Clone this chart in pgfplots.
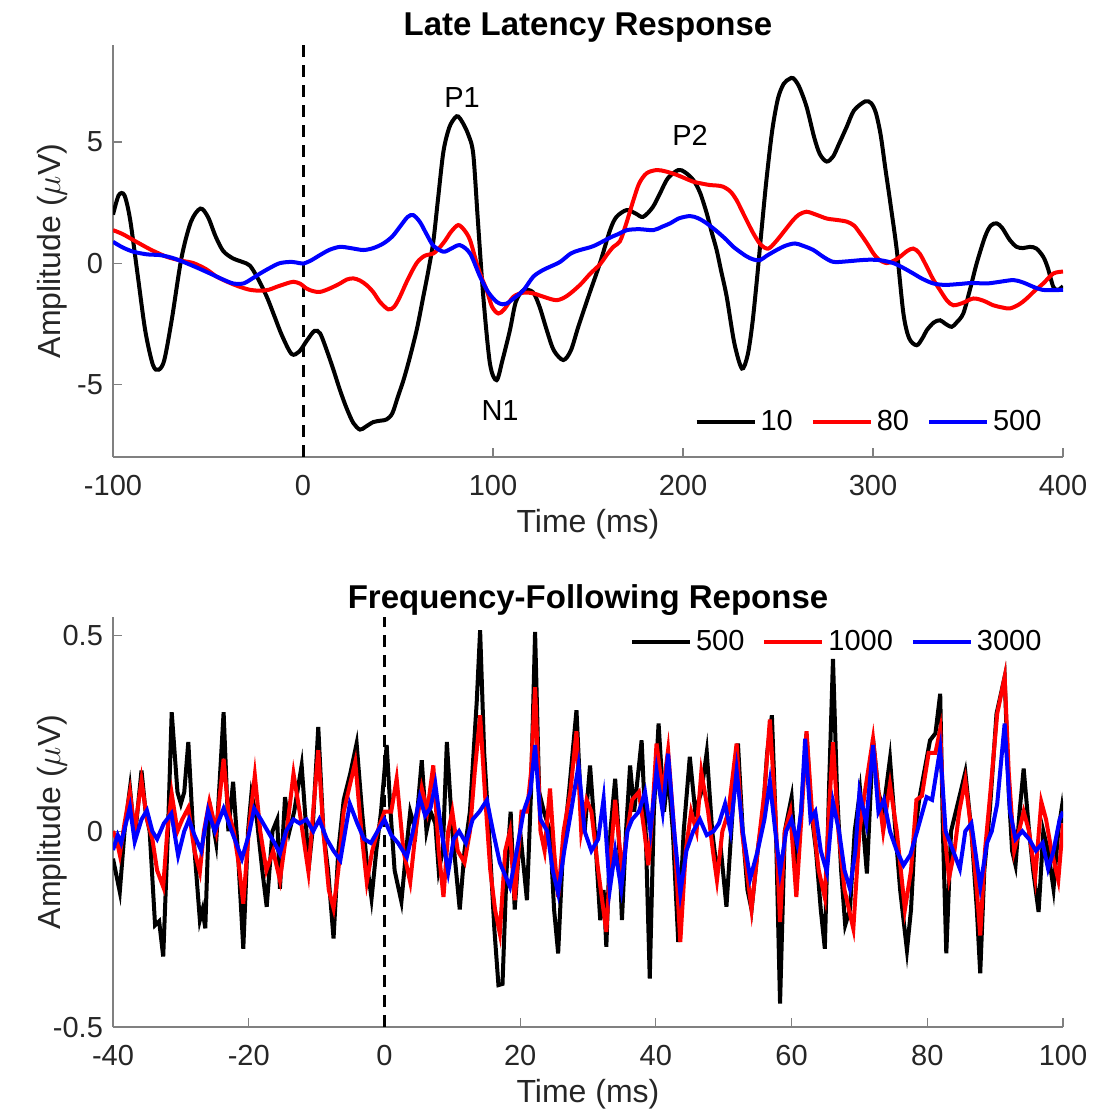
\documentclass[border=0pt]{standalone}
\usepackage{fontspec}
\setmainfont{Liberation Sans}
\usepackage{pgfplots}
\pgfplotsset{compat=1.18}
\definecolor{axgray}{gray}{0.5}
\definecolor{txtgray}{gray}{0.15}
\pgfplotsset{
  erp/.style={
    scale only axis, width=475pt,
    axis lines=left, axis line style={-, draw=axgray, line width=0.6pt},
    tick align=inside, major tick length=4.5pt,
    every tick/.style={draw=axgray, line width=0.6pt},
    tick label style={font=\fontsize{14.5}{17}\selectfont, text=txtgray},
    xticklabel style={yshift=-5.5pt},
    yticklabel style={xshift=-1.5pt},
    label style={font=\fontsize{16}{19}\selectfont, text=txtgray},
    xlabel style={at={([yshift=-33.5pt]axis description cs:0.5,0)}, anchor=center},
    ylabel style={at={([xshift=-30.5pt]axis description cs:0,0.5)}, anchor=center},
    every axis title shift=0pt,
    title style={font=\fontsize{16.5}{19}\selectfont\bfseries, at={([yshift=8.5pt]axis description cs:0.5,1)}, anchor=center},
    legend style={draw=none, fill=none, font=\fontsize{14.5}{17}\selectfont, inner sep=0pt,
      /tikz/every even column/.append style={column sep=7pt}},
    legend columns=3,
    legend image code/.code={\draw[#1, line width=2pt] (0pt,0pt) -- (29pt,0pt);},
  }
}
\begin{document}
\begin{tikzpicture}
\path[use as bounding box] (0pt,0pt) rectangle (547pt,-555.5pt);
% ---------- top: late latency response
\begin{axis}[erp, at={(56.5pt,-22.5pt)}, anchor=north west, height=206pt,
  xmin=-100, xmax=400, ymin=-8, ymax=9,
  xtick={-100,0,100,200,300,400}, xticklabels={-100,0,100,200,300,400},
  ytick={-5,0,5}, yticklabels={-5,0,5},
  title={Late Latency Response}, xlabel={Time (ms)}, ylabel={Amplitude ($\mu$V)},
  legend style={at={(0.982,0.085)}, anchor=east}]
\addplot[black, line width=1.5pt, dash pattern=on 6pt off 4pt, forget plot] coordinates {(0,-8) (0,9)};
\addplot[black, line width=2pt, smooth, tension=0.5] coordinates {
(-100,2.0) (-97,2.8) (-94,2.8) (-91,1.8) (-87,-0.5) (-83,-2.8) (-79,-4.2) (-76,-4.4) (-73,-4.0) (-69,-2.3) (-64,0.2) (-59,1.7) (-54,2.25) (-50,1.9) (-46,1.1) (-42,0.5) (-37,0.2) (-32,0.05) (-28,-0.1) (-24,-0.6) (-19,-1.4) (-15,-2.2) (-11,-3.0) (-6,-3.75) (-2,-3.65) (2,-3.2) (6,-2.8) (9,-2.9) (12.5,-3.6) (16,-4.4) (19.5,-5.25) (23,-6.0) (26.5,-6.6) (30,-6.87) (33,-6.75) (37,-6.56) (41,-6.5) (44,-6.45) (47,-6.2) (50,-5.5) (53,-4.8) (56.3,-3.87) (60,-2.7) (63.3,-1.39) (66,-0.3) (68.6,0.9) (71,2.6) (73.9,4.6) (77,5.6) (80,6.0) (81.7,6.05) (84,5.8) (87,5.3) (89.6,4.5) (92,1.8) (94.9,-1.39) (98.4,-4.15) (101.9,-4.83) (105,-4.0) (108.9,-2.77) (112,-1.6) (116,-1.12) (121,-1.2) (124.5,-1.8) (128.3,-2.77) (132,-3.6) (137,-4.0) (141,-3.6) (145,-2.6) (151,-1.2) (156.3,0.0) (161.6,1.36) (165,1.91) (170.4,2.19) (175,2.05) (179,1.91) (184,2.3) (187.9,2.88) (192,3.5) (197.5,3.84) (201,3.75) (205.4,3.43) (209,2.9) (212.5,2.05) (215,1.3) (217.7,0.54) (220,-0.3) (223,-1.39) (227,-3.3) (231,-4.35) (234,-3.8) (236.5,-2.5) (239,-0.6) (241.5,1.5) (244,3.5) (247,5.5) (250,6.8) (253,7.4) (256,7.6) (258,7.63) (261,7.3) (265,6.46) (269,5.2) (272,4.5) (275.6,4.19) (279,4.4) (282,4.9) (286.2,5.63) (290,6.3) (295.8,6.67) (299,6.6) (301.5,6.2) (304,5.3) (306.5,3.9) (308.9,2.6) (312.5,0.54) (316,-2.08) (319,-3.1) (323,-3.39) (326,-3.1) (328.3,-2.77) (332,-2.45) (335.3,-2.36) (338,-2.5) (341.4,-2.63) (344,-2.45) (347.5,-2.08) (351,-1.1) (354.6,0.0) (359,1.1) (362,1.55) (365.1,1.64) (368,1.45) (372,0.95) (375.6,0.67) (379,0.62) (382.6,0.67) (386,0.6) (389.6,0.26) (392,-0.2) (394.9,-0.98) (397.5,-1.1) (400,-0.95)};
\addplot[red, line width=2pt, smooth, tension=0.5] coordinates {
(-100,1.36) (-95,1.2) (-89.3,0.95) (-80,0.55) (-71.7,0.26) (-64,0.1) (-57.7,0.0) (-51,-0.25) (-45.4,-0.56) (-39,-0.8) (-33.2,-0.98) (-28,-1.1) (-22.6,-1.14) (-18,-1.1) (-13.9,-0.98) (-9,-0.85) (-5.1,-0.77) (-1.5,-0.85) (1.9,-1.05) (5,-1.15) (8.9,-1.19) (14,-1.05) (19.5,-0.84) (23,-0.68) (26.5,-0.63) (30,-0.72) (33.5,-0.91) (37,-1.2) (40.5,-1.6) (44.9,-1.91) (48,-1.8) (51,-1.39) (55,-0.7) (59.8,0.0) (64,0.3) (68.6,0.4) (72,0.65) (75,0.95) (78,1.3) (81.7,1.57) (85,1.35) (87.9,0.95) (91.4,0.0) (94,-0.6) (96.7,-1.12) (99.5,-1.8) (102.8,-2.08) (106,-1.9) (110.7,-1.39) (116,-1.22) (121.2,-1.25) (127,-1.4) (133.5,-1.53) (139,-1.35) (145.8,-0.9) (151,-0.45) (156.3,-0.05) (160,0.35) (163.3,0.67) (166.8,0.9) (170,1.6) (173.9,2.6) (177,3.3) (180.9,3.71) (186.2,3.84) (191,3.78) (196.7,3.64) (201,3.5) (205.4,3.36) (210,3.28) (214.2,3.22) (218,3.2) (221.2,3.15) (225,2.95) (228.2,2.6) (232,2.0) (237,1.23) (241,0.75) (244.9,0.6) (249,0.9) (254.6,1.45) (258,1.78) (261,2.0) (265,2.12) (270,2.0) (275.6,1.84) (281,1.78) (286.2,1.71) (290,1.55) (293.2,1.23) (297,0.8) (300.2,0.4) (303,0.15) (307.2,0.0) (311,0.1) (314.2,0.26) (318,0.5) (321.2,0.6) (324.5,0.4) (328.3,-0.15) (331.5,-0.65) (335.3,-1.12) (339,-1.55) (342.3,-1.74) (347,-1.65) (352.8,-1.46) (358,-1.55) (363.3,-1.74) (368,-1.83) (372.1,-1.87) (377,-1.7) (380.9,-1.46) (385,-1.15) (389.6,-0.84) (394.9,-0.43) (400,-0.35)};
\addplot[blue, line width=2pt, smooth, tension=0.5] coordinates {
(-100,0.88) (-95,0.65) (-89.3,0.47) (-82,0.36) (-75.3,0.33) (-69,0.22) (-63,0.05) (-56,-0.18) (-48.9,-0.43) (-42,-0.68) (-36.7,-0.84) (-31.4,-0.84) (-27,-0.65) (-22.6,-0.43) (-17,-0.18) (-12.1,0.0) (-6,0.05) (-2,0.0) (0.2,-0.02) (4,0.1) (8.9,0.33) (14,0.55) (19.5,0.67) (25,0.62) (31.7,0.54) (37,0.62) (42.3,0.81) (47,1.1) (51,1.5) (55,1.9) (58,1.98) (61.5,1.7) (65,1.2) (68.6,0.72) (73.9,0.47) (78,0.6) (82.6,0.74) (87.9,0.4) (93.2,-0.56) (97.5,-1.2) (101.9,-1.6) (105,-1.7) (107.2,-1.67) (111,-1.45) (116,-1.12) (121.2,-0.56) (126,-0.3) (130,-0.15) (135.3,0.05) (141,0.4) (145.8,0.54) (152.8,0.7) (161.6,1.05) (166,1.2) (170.4,1.36) (177,1.4) (184.4,1.36) (189,1.5) (193.2,1.64) (198,1.85) (203.7,1.94) (208,1.85) (212.5,1.64) (218,1.3) (223,0.95) (226.5,0.67) (233,0.3) (237,0.15) (240.5,0.12) (244,0.3) (249.3,0.54) (254,0.72) (258.9,0.81) (263,0.72) (268.6,0.54) (274,0.25) (279.1,0.05) (286,0.07) (293.2,0.12) (298,0.14) (303.7,0.12) (310.7,0.0) (316,-0.2) (321.2,-0.43) (326,-0.65) (331.8,-0.84) (338,-0.9) (345.8,-0.86) (352,-0.82) (359.8,-0.84) (366,-0.78) (373.9,-0.7) (379,-0.8) (384.4,-0.98) (389,-1.1) (394.9,-1.12) (400,-1.1)};
\legend{10,80,500}
\node[font=\fontsize{14.5}{17}\selectfont] at (axis cs:83.7,6.82) {P1};
\node[font=\fontsize{14.5}{17}\selectfont] at (axis cs:203.7,5.29) {P2};
\node[font=\fontsize{14.5}{17}\selectfont] at (axis cs:103.7,-6.07) {N1};
\end{axis}
% ---------- bottom: frequency-following response
\begin{axis}[erp, at={(56.5pt,-308.5pt)}, anchor=north west, height=205pt,
  xmin=-40, xmax=100, ymin=-0.5, ymax=0.547,
  xtick={-40,-20,0,20,40,60,80,100}, xticklabels={-40,-20,0,20,40,60,80,100},
  ytick={-0.5,0,0.5}, yticklabels={-0.5,0,0.5},
  title={Frequency-Following Reponse}, xlabel={Time (ms)}, ylabel={Amplitude ($\mu$V)},
  legend style={at={(0.982,0.939)}, anchor=east}]
\addplot[black, line width=1.5pt, dash pattern=on 6pt off 4pt, forget plot] coordinates {(0,-0.5) (0,0.547)};
\addplot[black, line width=2pt] coordinates {
(-40,-0.07) (-39.0,-0.155) (-38.3,0.0) (-37.5,0.11) (-36.8,-0.02) (-35.8,0.155) (-35.2,0.05) (-34.6,0.0) (-33.8,-0.24) (-33.2,-0.23) (-32.6,-0.32) (-31.9,0.0) (-31.35,0.304) (-30.5,0.1) (-30.0,0.07) (-29.5,0.1) (-28.9,0.228) (-28.2,0.0) (-27.2,-0.227) (-26.8,-0.20) (-26.4,-0.248) (-25.8,0.075) (-24.8,-0.03) (-23.7,0.304) (-23.0,0.0) (-22.3,0.126) (-21.6,-0.05) (-20.8,-0.30) (-20.1,0.0) (-19.6,0.096) (-18.8,0.03) (-18.0,-0.1) (-17.35,-0.193) (-16.5,0.0) (-15.8,0.03) (-15.4,-0.147) (-14.65,0.087) (-14.0,0.0) (-13.3,0.05) (-12.2,0.168) (-11.5,0.0) (-11.2,-0.10) (-10.6,0.0) (-9.75,0.266) (-9.0,0.0) (-8.3,-0.1) (-7.5,-0.274) (-6.8,-0.05) (-6.0,0.08) (-5.0,0.15) (-4.1,0.224) (-3.3,0.05) (-2.6,-0.08) (-1.9,-0.172) (-1.2,-0.05) (-0.5,0.05) (0.33,0.22) (0.9,0.05) (1.5,-0.1) (2.5,-0.18) (3.2,-0.05) (3.8,0.05) (4.6,0.0) (5.5,0.181) (6.2,0.0) (6.8,0.05) (7.5,0.02) (8.0,-0.1) (8.6,-0.05) (9.2,0.228) (10.0,0.0) (11.1,-0.20) (11.8,-0.05) (12.6,0.05) (13.6,0.33) (14.1,0.513) (14.7,0.2) (15.4,0.0) (16.2,-0.25) (16.8,-0.393) (17.4,-0.39) (18.0,-0.1) (18.6,0.05) (19.2,-0.20) (20.0,0.0) (21.0,-0.176) (21.6,0.1) (22.2,0.509) (22.8,0.1) (23.5,0.05) (24.4,0.0) (25.0,-0.2) (25.6,-0.312) (26.3,-0.05) (27.2,0.1) (28.3,0.309) (29.0,0.05) (29.6,0.02) (30.3,0.168) (31.0,0.0) (31.8,-0.227) (32.3,-0.15) (32.7,-0.295) (33.3,0.0) (34.0,0.134) (34.5,0.0) (35.0,-0.227) (35.6,0.0) (36.2,0.168) (36.8,0.05) (37.9,0.232) (38.5,0.0) (39.1,-0.376) (39.7,0.05) (40.4,0.275) (41.2,0.05) (41.8,0.15) (42.5,0.0) (43.3,-0.283) (44.1,0.0) (45.0,0.19) (45.8,0.05) (46.7,0.1) (47.5,0.202) (48.3,0.0) (49.0,-0.1) (49.6,-0.05) (50.4,-0.193) (51.3,0.05) (52.1,0.224) (52.8,0.0) (53.5,-0.15) (54.1,-0.2) (55.0,-0.05) (55.8,0.05) (56.4,0.2) (57.1,0.296) (57.7,0.0) (58.3,-0.44) (59.0,0.0) (60.0,0.087) (60.7,-0.1) (61.4,0.05) (62.2,0.249) (62.9,0.05) (63.6,-0.05) (64.3,-0.2) (64.9,-0.30) (65.5,0.1) (66.1,0.44) (66.7,0.1) (67.3,-0.1) (67.9,-0.24) (68.6,-0.2) (69.3,0.0) (70.1,0.104) (71.1,-0.108) (72.0,0.236) (72.8,0.1) (73.5,0.05) (74.5,0.185) (75.3,0.0) (76.0,-0.15) (77.0,-0.304) (77.6,-0.2) (78.2,0.0) (78.8,0.08) (79.4,0.138) (80.4,0.232) (81.2,0.25) (81.9,0.351) (82.3,0.0) (82.8,-0.312) (83.5,0.0) (84.2,0.05) (84.9,0.1) (85.6,0.151) (86.5,0.0) (87.3,-0.2) (87.8,-0.363) (88.4,-0.1) (89.2,0.05) (90.2,0.3) (91.4,0.394) (92.0,0.1) (92.5,-0.05) (93.0,-0.087) (93.6,0.05) (94.2,0.16) (95.0,0.0) (95.6,-0.1) (96.4,-0.206) (97.1,0.0) (97.8,-0.05) (98.6,-0.147) (99.3,0.0) (99.8,0.058) (100,0.02)};
\addplot[red, line width=2pt] coordinates {
(-40,0.0) (-39.5,-0.02) (-39.0,-0.06) (-38.3,0.02) (-37.5,0.10) (-36.8,0.0) (-35.8,0.13) (-35.0,0.03) (-34.2,-0.02) (-33.5,-0.10) (-32.6,-0.142) (-32.0,0.0) (-31.35,0.096) (-30.5,0.0) (-29.8,0.03) (-28.9,0.06) (-28.0,-0.05) (-27.2,-0.104) (-26.6,0.0) (-25.8,0.075) (-24.8,0.0) (-23.7,0.185) (-23.0,0.05) (-22.2,0.0) (-21.5,-0.08) (-20.8,-0.185) (-20.0,0.0) (-19.1,0.143) (-18.3,0.0) (-17.4,-0.1) (-16.4,-0.05) (-15.4,-0.125) (-14.4,0.0) (-13.4,0.147) (-12.5,0.05) (-11.2,-0.104) (-10.5,0.05) (-9.75,0.207) (-9.0,0.0) (-8.2,-0.15) (-7.5,-0.197) (-6.8,-0.1) (-6.0,0.05) (-4.3,0.177) (-3.4,0.0) (-2.6,-0.13) (-1.8,-0.05) (-1.0,0.0) (0.0,0.05) (1.0,0.05) (1.8,0.134) (2.8,-0.05) (3.8,-0.13) (4.6,0.0) (5.5,0.11) (6.3,0.05) (7.2,0.168) (8.0,-0.05) (8.7,-0.168) (9.4,0.0) (10.0,0.05) (10.8,-0.05) (11.8,-0.08) (12.6,0.0) (13.3,0.15) (14.1,0.296) (14.8,0.1) (15.6,-0.1) (16.3,-0.2) (17.0,-0.261) (17.8,-0.05) (18.5,0.0) (19.2,-0.176) (20.2,0.05) (21.0,0.05) (21.6,0.15) (22.2,0.368) (23.0,0.0) (23.6,-0.05) (24.4,0.109) (25.0,-0.05) (25.6,-0.168) (26.4,0.0) (27.4,0.1) (28.3,0.255) (29.0,0.0) (29.8,0.08) (30.5,0.05) (31.5,-0.1) (32.7,-0.257) (33.4,-0.05) (34.0,0.08) (35.0,-0.1) (35.8,0.0) (36.5,0.08) (37.5,0.1) (38.3,0.0) (38.9,-0.087) (39.5,0.05) (40.1,0.224) (41.0,0.1) (41.8,0.207) (42.7,0.0) (43.6,-0.283) (44.4,-0.05) (45.2,0.05) (46.0,0.0) (46.7,0.151) (47.7,0.05) (48.4,-0.05) (49.0,-0.125) (49.8,0.0) (50.7,0.05) (51.9,0.224) (52.7,0.0) (53.4,-0.1) (54.1,-0.2) (55.0,-0.05) (56.0,0.1) (56.8,0.285) (57.6,0.05) (58.3,-0.232) (59.0,0.0) (59.8,0.05) (60.7,-0.168) (61.5,0.05) (62.2,0.255) (63.0,0.05) (64.0,-0.1) (64.9,-0.17) (65.5,0.05) (66.1,0.227) (66.9,0.0) (67.8,-0.15) (69.1,-0.249) (70.0,0.0) (70.8,0.1) (72.0,0.236) (72.8,0.1) (73.5,0.0) (74.5,0.12) (75.5,0.0) (76.7,-0.2) (77.6,-0.1) (78.4,0.08) (79.2,0.09) (80.2,0.2) (81.2,0.2) (81.9,0.26) (82.5,0.0) (83.2,-0.12) (84.0,-0.05) (84.7,0.05) (85.6,0.13) (86.5,0.0) (87.3,-0.15) (87.8,-0.266) (88.5,-0.05) (89.3,0.1) (90.3,0.3) (91.4,0.394) (92.0,0.15) (92.8,-0.05) (93.5,0.0) (94.2,0.05) (95.0,0.0) (95.9,-0.117) (96.8,0.075) (97.5,0.03) (98.3,-0.05) (99.3,-0.125) (100,0.02)};
\addplot[blue, line width=2pt] coordinates {
(-40,-0.048) (-39.3,-0.01) (-38.8,-0.03) (-37.5,0.062) (-36.8,-0.027) (-35.8,0.03) (-35.0,0.053) (-34.2,0.0) (-33.5,-0.02) (-32.5,0.02) (-31.4,0.045) (-30.4,-0.062) (-29.5,0.0) (-28.8,0.03) (-28.0,-0.01) (-27.0,-0.05) (-26.0,0.053) (-25.0,0.0) (-23.7,0.058) (-22.5,0.0) (-21.0,-0.07) (-20.0,-0.01) (-19.2,0.058) (-18.2,0.03) (-17.2,0.0) (-16.2,-0.03) (-15.4,-0.057) (-14.5,0.0) (-13.4,0.03) (-12.5,0.02) (-11.5,0.03) (-10.5,0.0) (-9.6,0.03) (-8.5,-0.02) (-7.5,-0.05) (-6.5,-0.074) (-5.1,0.07) (-4.0,0.02) (-3.0,-0.02) (-2.0,-0.03) (-1.0,0.0) (0.0,0.03) (1.0,-0.01) (2.0,-0.03) (3.3,-0.066) (4.2,0.0) (5.2,0.087) (6.0,0.04) (6.8,0.06) (7.5,0.12) (8.4,0.0) (9.4,-0.104) (10.2,-0.02) (11.0,0.0) (12.0,-0.03) (13.0,0.03) (14.0,0.05) (15.1,0.079) (16.0,0.0) (17.0,-0.08) (18.5,-0.142) (19.5,-0.05) (20.5,0.05) (21.5,0.1) (22.2,0.22) (23.0,0.03) (24.0,0.0) (24.8,-0.1) (25.6,-0.159) (26.5,-0.05) (27.5,0.05) (28.6,0.168) (29.5,0.0) (30.5,-0.05) (31.5,-0.02) (32.3,0.083) (33.2,-0.15) (34.0,-0.05) (34.9,-0.147) (35.8,0.0) (36.5,0.03) (37.5,0.05) (38.4,0.1) (39.2,0.0) (40.1,0.155) (41.0,0.05) (41.8,0.198) (42.7,0.0) (43.6,-0.159) (44.5,-0.05) (45.5,0.0) (46.5,0.03) (47.5,-0.01) (48.5,0.0) (49.3,0.02) (50.2,0.07) (51.0,0.0) (51.9,0.155) (52.8,0.0) (53.9,-0.121) (55.0,-0.05) (56.0,0.03) (56.8,0.126) (57.6,0.0) (58.3,-0.104) (59.2,0.0) (60.0,0.03) (60.8,-0.03) (61.4,0.05) (62.0,0.236) (62.8,0.03) (63.5,0.05) (64.3,-0.05) (65.2,-0.104) (66.1,0.074) (67.0,0.0) (67.8,-0.1) (68.6,-0.147) (69.4,-0.05) (70.0,0.1) (71.0,0.02) (72.0,0.22) (72.8,0.05) (73.6,0.08) (74.5,0.0) (75.5,-0.05) (76.5,-0.087) (77.5,-0.06) (78.5,0.0) (79.9,0.087) (80.7,0.08) (81.9,0.211) (82.7,0.0) (83.8,-0.05) (84.8,-0.096) (85.6,0.0) (86.5,0.02) (87.8,-0.142) (88.8,-0.03) (89.5,0.0) (90.3,0.07) (91.4,0.275) (92.2,0.05) (93.0,-0.02) (94.0,0.0) (95.0,-0.02) (96.0,-0.05) (97.0,-0.03) (97.8,-0.096) (98.6,-0.05) (99.5,0.03) (100,0.05)};
\legend{500,1000,3000}
\end{axis}
\end{tikzpicture}
\end{document}
